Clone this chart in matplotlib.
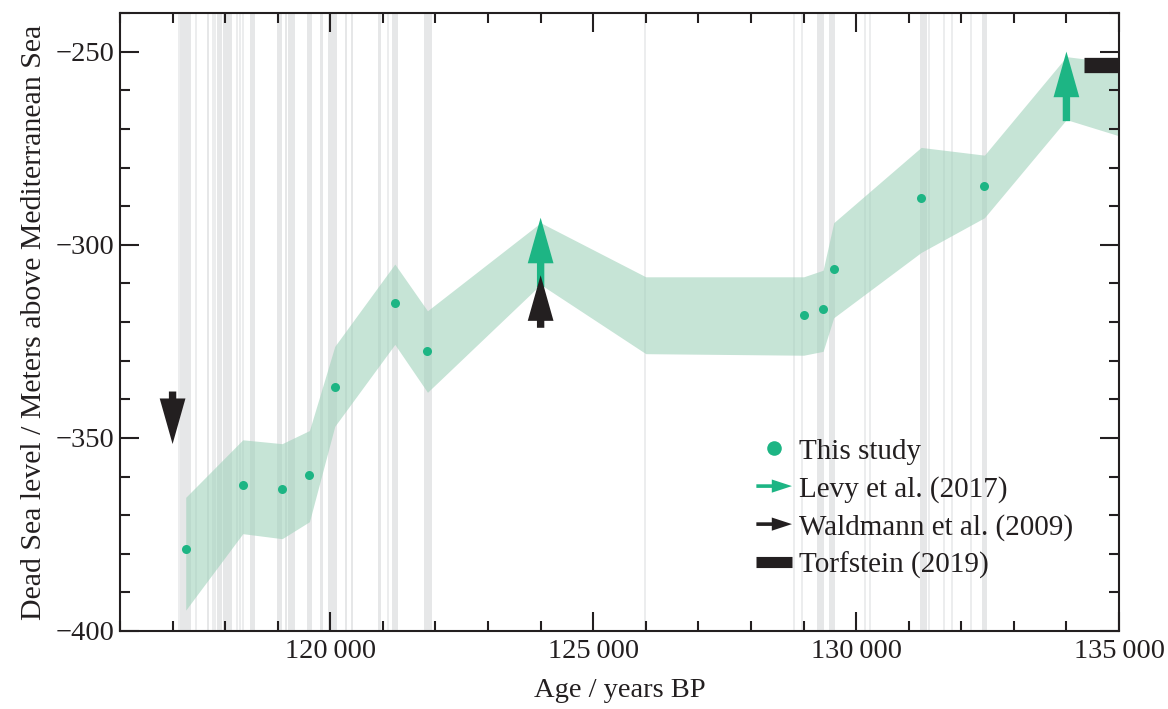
import numpy as np
import matplotlib
matplotlib.use("Agg")
import matplotlib.pyplot as plt
import matplotlib.patches as mpatches
from matplotlib.lines import Line2D
from matplotlib.legend_handler import HandlerPatch
from matplotlib.ticker import FuncFormatter, MultipleLocator

plt.rcParams['font.family'] = ['Liberation Serif', 'DejaVu Serif']
plt.rcParams['font.size'] = 20.5
plt.rcParams['axes.unicode_minus'] = True

# --- data ---
study_age = [117250, 118335, 119083, 119603, 120085, 121227, 121848,
             129003, 129372, 129574, 131236, 132441]
study_level = [-378.7, -362.2, -363.3, -359.5, -336.8, -315.0, -327.5,
               -318.2, -316.6, -306.4, -288.0, -284.8]

band_age = [117250, 118335, 119083, 119603, 120085, 121227, 121848, 124000,
            126000, 129003, 129372, 129574, 131236, 132441, 134000, 135000]
band_upper = [-365.4, -350.5, -351.5, -348.1, -326.3, -305.0, -317.1, -294.3,
              -308.3, -308.3, -306.6, -294.3, -274.8, -276.8, -251.3, -253.0]
band_lower = [-394.6, -374.8, -376.1, -371.7, -347.0, -325.8, -338.2, -310.3,
              -328.2, -328.6, -327.6, -318.9, -302.0, -293.0, -267.6, -271.8]

# lower bounds (arrow up)
levy_age = [124000, 134000]
levy_level = [-311.0, -268.0]

# bounds with direction (+1 up = minimum, -1 down = maximum)
waldmann_age = [117000, 124000]
waldmann_level = [-338.0, -321.5]
waldmann_dir = [-1, 1]

torfstein_age = [134330, 135000]
torfstein_level = [-253.4, -253.4]

# grey sample intervals (start, end) in years BP
gap_start = [117142, 117661, 117840, 117966, 118474, 118982, 119140, 119203,
             119553, 119806, 119964, 120283, 120390, 120904, 121170, 121785,
             129258, 129479, 131224, 132398]
gap_end = [117345, 117699, 117935, 118125, 118569, 119077, 119172, 119330,
           119648, 119869, 120124, 120326, 120440, 120961, 121284, 121932,
           129383, 129606, 131351, 132480]
gap_single = [117117, 117446, 117764, 117808, 118221, 118284, 118347, 121106,
              125991, 128813, 128973, 130177, 130273, 131382, 131667, 131827,
              132176]

green = '#1db584'
black = '#231f20'

fig = plt.figure(figsize=(11.68, 7.09), dpi=100)
ax = fig.add_axes([120 / 1168, 1 - 631 / 709, 999 / 1168, 618 / 709])

for a, b in zip(gap_start, gap_end):
    ax.axvspan(a, b, color='#e6e7e8', lw=0, zorder=0)
for a in gap_single:
    ax.axvline(a, color='#e9eaeb', lw=1.2, zorder=0)

ax.fill_between(band_age, band_lower, band_upper, color='#a0d2bb', alpha=0.6,
                lw=0, zorder=1)

# arrows: widths in years, lengths in metres
shaft_w, head_w = 140, 490
head_len = 11.8
for x, y in zip(levy_age, levy_level):
    ax.arrow(x, y, 0, 18, width=shaft_w, head_width=head_w, head_length=head_len,
             length_includes_head=True, color=green, lw=0, zorder=3)
for x, y, d in zip(waldmann_age, waldmann_level, waldmann_dir):
    ax.arrow(x, y, 0, 13.6 * d, width=shaft_w, head_width=head_w,
             head_length=head_len, length_includes_head=True, color=black,
             lw=0, zorder=4)

ax.plot(torfstein_age, torfstein_level, color=black, lw=11,
        solid_capstyle='butt', zorder=4, clip_on=True)
ax.plot(study_age, study_level, 'o', color=green, ms=6.5, mec='none', zorder=5)

ax.set_xlim(116000, 135000)
ax.set_ylim(-400, -240)
ax.xaxis.set_major_locator(MultipleLocator(5000))
ax.xaxis.set_minor_locator(MultipleLocator(1000))
ax.yaxis.set_major_locator(MultipleLocator(50))
ax.yaxis.set_minor_locator(MultipleLocator(10))
ax.xaxis.set_major_formatter(FuncFormatter(
    lambda v, p: f"{int(v):,}".replace(',', '\u2009')))
ax.yaxis.set_major_formatter(FuncFormatter(
    lambda v, p: f"{int(v)}".replace('-', '\u2212')))
ax.tick_params(which='both', direction='in', top=True, right=True, width=1.5,
               color=black, labelcolor=black)
ax.tick_params(which='major', length=13.5)
ax.tick_params(which='minor', length=7)
ax.tick_params(axis='x', pad=6)
ax.tick_params(axis='y', pad=4)
for s in ax.spines.values():
    s.set_linewidth(1.5)
    s.set_color(black)

ax.set_xlabel('Age / years BP', color=black, labelpad=10)
ax.set_ylabel('Dead Sea level / Meters above Mediterranean Sea', color=black,
              labelpad=6, fontsize=21.5)


def legend_arrow(legend, orig_handle, xdescent, ydescent, width, height, fontsize):
    return mpatches.FancyArrow(-xdescent, height / 2 - ydescent, width, 0,
                               width=2.6, head_width=9.5, head_length=14.5,
                               length_includes_head=True)


h_study = Line2D([], [], marker='o', ls='none', color=green, mec='none', ms=10.5)
h_levy = mpatches.FancyArrow(0, 0, 1, 0, color=green, lw=0)
h_wald = mpatches.FancyArrow(0, 0, 1, 0, color=black, lw=0)
h_torf = Line2D([], [], color=black, lw=8, solid_capstyle='butt')
ax.legend([h_study, h_levy, h_wald, h_torf],
          ['This study', 'Levy et al. (2017)', 'Waldmann et al. (2009)',
           'Torfstein (2019)'],
          handler_map={mpatches.FancyArrow: HandlerPatch(patch_func=legend_arrow)},
          loc='upper left', bbox_to_anchor=(0.637, 0.312), frameon=False,
          borderpad=0, borderaxespad=0, handlelength=1.22, handletextpad=0.24,
          labelspacing=0.38, labelcolor=black, fontsize=21)

fig.savefig('out.png', dpi=100)
